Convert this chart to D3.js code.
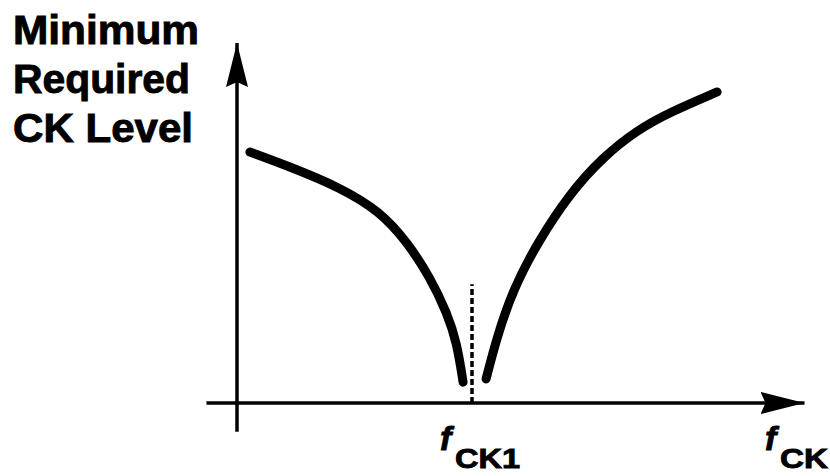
<!DOCTYPE html>
<html>
<head>
<meta charset="utf-8">
<script src="https://cdn.jsdelivr.net/npm/d3@7"></script>
<style>
  html, body { margin: 0; padding: 0; background: #fff; }
  svg { display: block; }
  text { font-family: "Liberation Sans", Arial, Helvetica, sans-serif; font-weight: bold; fill: #000; stroke: #000; stroke-width: 0.9px; }
</style>
</head>
<body>
<svg id="chart" width="830" height="476"></svg>
<script>
// Minimum required clock level versus clock frequency (fCK1 = 1)
const lowBranchF   = [0.055, 0.226, 0.438, 0.609, 0.723, 0.821, 0.894, 0.936, 0.962];
const lowBranchL   = [6.97, 6.56, 5.99, 5.32, 4.48, 3.50, 2.50, 1.67, 0.58];
const highBranchF  = [1.060, 1.106, 1.174, 1.277, 1.417, 1.557, 1.702, 1.843, 2.043];
const highBranchL  = [0.67, 1.83, 3.14, 4.44, 5.83, 6.83, 7.58, 8.08, 8.64];
const markerF      = [1.0];
const markerL      = [0.0, 3.3];
const yTitleLines  = ["Minimum", "Required", "CK Level"];

const svg = d3.select("#chart");

// Scales: frequency axis origin at the vertical axis, level 0 on the horizontal axis
const x = d3.scaleLinear().domain([0, 1]).range([237, 472]);
const y = d3.scaleLinear().domain([0, 10]).range([403, 43]);

// Arrowhead marker
const defs = svg.append("defs");
defs.append("marker")
  .attr("id", "arrow")
  .attr("viewBox", "0 0 44 22")
  .attr("refX", 44).attr("refY", 11)
  .attr("markerWidth", 44).attr("markerHeight", 22)
  .attr("markerUnits", "userSpaceOnUse")
  .attr("orient", "auto")
  .append("path")
  .attr("d", "M0,0 L44,11 L0,22 L5,11 Z")
  .attr("fill", "#000");

// Axes
svg.append("line")
  .attr("x1", x(-0.13)).attr("y1", y(0))
  .attr("x2", x(2.415)).attr("y2", y(0))
  .attr("stroke", "#000").attr("stroke-width", 3.5)
  .attr("marker-end", "url(#arrow)");

svg.append("line")
  .attr("x1", x(0)).attr("y1", y(-0.8))
  .attr("x2", x(0)).attr("y2", y(10))
  .attr("stroke", "#000").attr("stroke-width", 3.5)
  .attr("marker-end", "url(#arrow)");

// Dashed marker at fCK1
svg.append("line")
  .attr("x1", x(markerF[0])).attr("y1", y(markerL[0]))
  .attr("x2", x(markerF[0])).attr("y2", y(markerL[1]))
  .attr("stroke", "#000").attr("stroke-width", 3.5)
  .attr("stroke-dasharray", "6,3");

// Curves
const line = d3.line()
  .x(d => x(d[0]))
  .y(d => y(d[1]))
  .curve(d3.curveBasis);

[[lowBranchF, lowBranchL], [highBranchF, highBranchL]].forEach(([fs, ls]) => {
  svg.append("path")
    .datum(fs.map((f, i) => [f, ls[i]]))
    .attr("d", line)
    .attr("fill", "none")
    .attr("stroke", "#000")
    .attr("stroke-width", 9)
    .attr("stroke-linecap", "round");
});

// Y-axis title
const titleWidths = [186, 177, 180];
const titleBase = [44, 93, 142];
yTitleLines.forEach((t, i) => {
  svg.append("text")
    .attr("x", 13).attr("y", titleBase[i])
    .attr("font-size", 40)
    .attr("textLength", titleWidths[i])
    .attr("lengthAdjust", "spacingAndGlyphs")
    .text(t);
});

// Frequency labels
function freqLabel(sub, subX, subWidth, fX) {
  svg.append("text")
    .attr("x", fX).attr("y", 450)
    .attr("font-size", 34).attr("font-style", "italic")
    .text("f");
  svg.append("text")
    .attr("x", subX).attr("y", 468)
    .attr("font-size", 28)
    .attr("textLength", subWidth)
    .attr("lengthAdjust", "spacingAndGlyphs")
    .text(sub);
}
freqLabel("CK1", 455, 65, 440);
freqLabel("CK", 780, 48, 765);
</script>
</body>
</html>
